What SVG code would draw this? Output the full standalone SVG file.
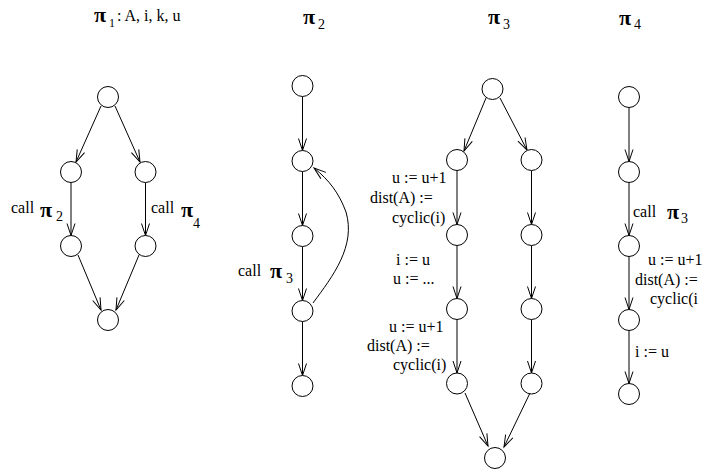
<svg xmlns="http://www.w3.org/2000/svg" width="702" height="470" viewBox="0 0 702 470">
<style>
.n{fill:#fff;stroke:#000;stroke-width:1}
.e{fill:none;stroke:#000;stroke-width:1;marker-end:url(#a)}
text{font-family:"Liberation Serif","Times New Roman",serif;font-size:16px;fill:#000}
.p{font-size:22px;font-weight:bold}
.s{font-size:14px}
</style>
<defs>
<marker id="a" markerUnits="userSpaceOnUse" markerWidth="16" markerHeight="12" viewBox="-13 -6 14 12" refX="0" refY="0" orient="auto">
<path d="M-12,-4 L0,0 L-12,4" fill="none" stroke="#000" stroke-width="1"/>
</marker>
</defs>
<rect width="702" height="470" fill="#fff"/>
<g id="titles">
<text x="94" y="22" class="p">π</text><text x="109" y="27" class="s" style="font-size:12px">1</text><text x="117" y="21">: A, i, k, u</text>
<text x="303" y="24" class="p">π</text><text x="318" y="29" class="s">2</text>
<text x="488" y="24" class="p">π</text><text x="503" y="29" class="s">3</text>
<text x="619" y="25" class="p">π</text><text x="634" y="29" class="s">4</text>
</g>
<g id="connectors">
<path class="e" d="M101,106 L76,162"/>
<path class="e" d="M115,106 L140,162"/>
<path class="e" d="M71,182.5 L71,235.5"/>
<path class="e" d="M145.5,182.5 L145.5,235.5"/>
<path class="e" d="M78,255 L101,310"/>
<path class="e" d="M139,255 L116,310"/>
<path class="e" d="M302.5,96.5 L302.5,150.5"/>
<path class="e" d="M302.5,171.5 L302.5,225.5"/>
<path class="e" d="M302.5,246.5 L302.5,300.5"/>
<path class="e" d="M302.5,321.5 L302.5,375.5"/>
<path class="e" d="M313,303 C333,276 356,246 346,212 C339,193 329,180 314,168"/>
<path class="e" d="M486,98 L464,151"/>
<path class="e" d="M500,98 L527,150"/>
<path class="e" d="M457,170.5 L457,224.5"/>
<path class="e" d="M457,245.5 L457,298.5"/>
<path class="e" d="M457,319.5 L457,373"/>
<path class="e" d="M531.5,170.5 L531.5,224.5"/>
<path class="e" d="M531.5,245.5 L531.5,298.5"/>
<path class="e" d="M531.5,319.5 L531.5,373"/>
<path class="e" d="M465,393 L488,446"/>
<path class="e" d="M530,393 L504,447"/>
<path class="e" d="M629,107.5 L629,161.5"/>
<path class="e" d="M629,182.5 L629,235.5"/>
<path class="e" d="M629,256.5 L629,309.5"/>
<path class="e" d="M629,330.5 L629,383.5"/>
</g>
<g id="labels">
<text x="11" y="213">call</text><text x="40" y="217" class="p">π</text><text x="56" y="221" class="s">2</text>
<text x="151" y="213">call</text><text x="181" y="217" class="p">π</text><text x="193" y="228" class="s">4</text>
<text x="238" y="276">call</text><text x="270" y="278" class="p">π</text><text x="286" y="283" class="s">3</text>
<text x="392" y="183">u := u+1</text>
<text x="370" y="203">dist(A) :=</text>
<text x="392" y="223">cyclic(i)</text>
<text x="396" y="265">i := u</text>
<text x="393" y="284">u := ...</text>
<text x="389" y="332">u := u+1</text>
<text x="367" y="351">dist(A) :=</text>
<text x="393" y="370">cyclic(i)</text>
<text x="633" y="217">call</text><text x="667" y="219" class="p">π</text><text x="681" y="223" class="s">3</text>
<text x="648" y="265">u := u+1</text>
<text x="635" y="285">dist(A) :=</text>
<text x="650" y="304">cyclic(i</text>
<text x="635" y="357">i := u</text>
</g>
<g id="pi1">
<circle id="p1n1" class="n" cx="108" cy="97" r="10.5"/>
<circle id="p1n2" class="n" cx="71" cy="172" r="10.5"/>
<circle id="p1n3" class="n" cx="145.5" cy="172" r="10.5"/>
<circle id="p1n4" class="n" cx="71" cy="246" r="10.5"/>
<circle id="p1n5" class="n" cx="145.5" cy="246" r="10.5"/>
<circle id="p1n6" class="n" cx="108" cy="320" r="10.5"/>
</g>
<g id="pi2">
<circle id="p2n1" class="n" cx="302.5" cy="86" r="10.5"/>
<circle id="p2n2" class="n" cx="302.5" cy="161" r="10.5"/>
<circle id="p2n3" class="n" cx="302.5" cy="236" r="10.5"/>
<circle id="p2n4" class="n" cx="302.5" cy="311" r="10.5"/>
<circle id="p2n5" class="n" cx="302.5" cy="386" r="10.5"/>
</g>
<g id="pi3">
<circle id="p3n1" class="n" cx="492.5" cy="89" r="10.5"/>
<circle id="p3n2" class="n" cx="457" cy="160" r="10.5"/>
<circle id="p3n3" class="n" cx="531.5" cy="160" r="10.5"/>
<circle id="p3n4" class="n" cx="457" cy="235" r="10.5"/>
<circle id="p3n5" class="n" cx="531.5" cy="235" r="10.5"/>
<circle id="p3n6" class="n" cx="457" cy="309" r="10.5"/>
<circle id="p3n7" class="n" cx="531.5" cy="309" r="10.5"/>
<circle id="p3n8" class="n" cx="457" cy="383.5" r="10.5"/>
<circle id="p3n9" class="n" cx="531.5" cy="383.5" r="10.5"/>
<circle id="p3n10" class="n" cx="495" cy="458" r="10.5"/>
</g>
<g id="pi4">
<circle id="p4n1" class="n" cx="629" cy="97" r="10.5"/>
<circle id="p4n2" class="n" cx="629" cy="172" r="10.5"/>
<circle id="p4n3" class="n" cx="629" cy="246" r="10.5"/>
<circle id="p4n4" class="n" cx="629" cy="320" r="10.5"/>
<circle id="p4n5" class="n" cx="629" cy="394" r="10.5"/>
</g>
</svg>
